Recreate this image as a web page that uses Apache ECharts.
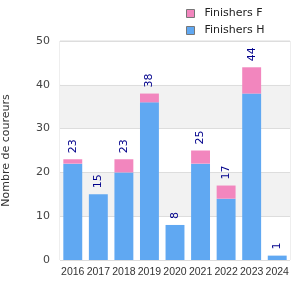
<!DOCTYPE html>
<html lang="fr">
<head>
  <meta charset="UTF-8" />
  <title>Finishers</title>
  <script src="https://cdn.jsdelivr.net/npm/echarts@6/dist/echarts.min.js"></script>
  <style>body{margin:0;background:#fff;}</style>
</head>
<body>
  <div id="main" style="width:300px; height:300px;"></div>
  <script type="text/javascript">
    // données
    var years = ['2016', '2017', '2018', '2019', '2020', '2021', '2022', '2023', '2024'];
    var finishersH = [22, 15, 20, 36, 8, 22, 14, 38, 1];
    var finishersF = [1, 0, 3, 2, 0, 3, 3, 6, 0];
    var totals = [23, 15, 23, 38, 8, 25, 17, 44, 1];

    var chart = echarts.init(document.getElementById('main'));
    chart.setOption({
      animation: false,
      textStyle: { fontFamily: 'DejaVu Sans' },
      legend: {
        left: 181, top: 3,
        orient: 'vertical',
        icon: 'rect',
        itemWidth: 8, itemHeight: 8, itemGap: 6,
        data: [
          { name: 'Finishers F', itemStyle: { borderColor: '#777', borderWidth: 1 } },
          { name: 'Finishers H', itemStyle: { borderColor: '#777', borderWidth: 1 } }
        ],
        textStyle: { fontSize: 11, fontFamily: 'DejaVu Sans', color: '#222', padding: [0, 0, 0, 5] }
      },
      grid: {
        left: 60, right: 10, top: 41, bottom: 40,
        outerBoundsMode: 'none', containLabel: false,
        show: true, borderColor: '#ddd', borderWidth: 1
      },
      xAxis: {
        type: 'category',
        data: years,
        axisLine: { show: false },
        axisTick: { show: false },
        axisLabel: { fontSize: 10.5, fontFamily: 'Liberation Sans', color: '#333', margin: 7, interval: 0 }
      },
      yAxis: {
        type: 'value',
        min: 0, max: 50, interval: 10,
        name: 'Nombre de coureurs',
        nameLocation: 'middle',
        nameGap: 48,
        nameTextStyle: { fontSize: 11, color: '#333' },
        axisLabel: { fontSize: 11, color: '#444', margin: 10 },
        splitLine: { lineStyle: { color: '#ddd' } },
        splitArea: { show: true, areaStyle: { color: ['#ffffff', '#f2f2f2'] } }
      },
      series: [
        {
          name: 'Finishers H',
          type: 'bar',
          stack: 'total',
          barWidth: '74%',
          data: finishersH,
          itemStyle: { color: '#60a8f2' }
        },
        {
          name: 'Finishers F',
          type: 'bar',
          stack: 'total',
          data: finishersF,
          itemStyle: { color: '#f286be' },
          label: {
            show: true,
            position: 'top',
            rotate: 90,
            align: 'left',
            verticalAlign: 'middle',
            distance: 6,
            fontSize: 11,
            color: '#00008b',
            formatter: function (p) { return totals[p.dataIndex]; }
          }
        }
      ]
    });
  </script>
</body>
</html>
